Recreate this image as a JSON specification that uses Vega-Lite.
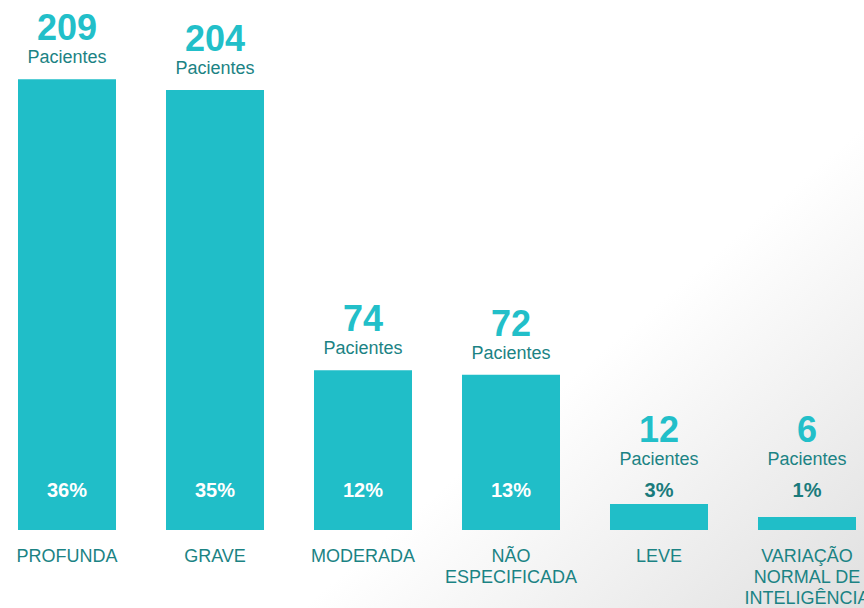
{
  "$schema": "https://vega.github.io/schema/vega-lite/v6.json",
  "width": 864,
  "height": 608,
  "autosize": {"type": "none"},
  "padding": 0,
  "background": "#ffffff",
  "config": {
    "view": {
      "stroke": null,
      "fill": {"gradient": "linear", "x1": 0.67, "y1": 0.61, "x2": 1.06, "y2": 0.93,
        "stops": [{"offset": 0, "color": "#ffffff"}, {"offset": 1, "color": "#e0e0e0"}]}
    }
  },
  "data": {
    "values": [
      {"cat": "PROFUNDA", "n": 209, "pct": "36%"},
      {"cat": "GRAVE", "n": 204, "pct": "35%"},
      {"cat": "MODERADA", "n": 74, "pct": "12%"},
      {"cat": "NÃO ESPECIFICADA", "n": 72, "pct": "13%"},
      {"cat": "LEVE", "n": 12, "pct": "3%"},
      {"cat": "VARIAÇÃO NORMAL DE INTELIGÊNCIA", "n": 6, "pct": "1%"}
    ]
  },
  "encoding": {
    "x": {
      "field": "cat", "type": "nominal", "sort": null,
      "scale": {"range": [18, 856], "paddingInner": 0.3378, "paddingOuter": 0},
      "axis": {
        "title": null, "orient": "bottom", "offset": -78, "domain": false, "ticks": false,
        "labelAngle": 0, "labelPadding": 17, "labelFontSize": 18,
        "labelFont": "Liberation Sans",
        "labelColor": "#1b8384", "labelLineHeight": 21, "labelOverlap": false, "labelBound": false,
        "labelLimit": 0,
        "labelExpr": "datum.label == 'NÃO ESPECIFICADA' ? ['NÃO', 'ESPECIFICADA'] : datum.label == 'VARIAÇÃO NORMAL DE INTELIGÊNCIA' ? ['VARIAÇÃO', 'NORMAL DE', 'INTELIGÊNCIA'] : datum.label"
      }
    }
  },
  "layer": [
    {
      "mark": {"type": "bar", "color": "#20bec8"},
      "encoding": {
        "y": {"field": "n", "type": "quantitative", "scale": {"domain": [0, 245.7], "range": [530, 0], "nice": false, "zero": true}, "axis": null}
      }
    },
    {
      "transform": [{"filter": "datum.n > 50"}],
      "mark": {"type": "text", "dy": -39, "baseline": "alphabetic", "fontSize": 36, "fontWeight": "bold", "font": "Liberation Sans", "color": "#22bfc9"},
      "encoding": {"y": {"field": "n", "type": "quantitative"}, "text": {"field": "n"}}
    },
    {
      "transform": [{"filter": "datum.n > 50"}],
      "mark": {"type": "text", "dy": -16, "baseline": "alphabetic", "fontSize": 18, "font": "Liberation Sans", "color": "#1b8384"},
      "encoding": {"y": {"field": "n", "type": "quantitative"}, "text": {"value": "Pacientes"}}
    },
    {
      "transform": [{"filter": "datum.n <= 50"}],
      "mark": {"type": "text", "dy": -88, "baseline": "alphabetic", "fontSize": 36, "fontWeight": "bold", "font": "Liberation Sans", "color": "#22bfc9"},
      "encoding": {"y": {"datum": 0, "type": "quantitative"}, "text": {"field": "n"}}
    },
    {
      "transform": [{"filter": "datum.n <= 50"}],
      "mark": {"type": "text", "dy": -65, "baseline": "alphabetic", "fontSize": 18, "font": "Liberation Sans", "color": "#1b8384"},
      "encoding": {"y": {"datum": 0, "type": "quantitative"}, "text": {"value": "Pacientes"}}
    },
    {
      "mark": {"type": "text", "dy": -33, "baseline": "alphabetic", "fontSize": 20, "fontWeight": "bold", "font": "Liberation Sans"},
      "encoding": {
        "y": {"datum": 0, "type": "quantitative"},
        "text": {"field": "pct"},
        "color": {"condition": {"test": "datum.n > 50", "value": "#ffffff"}, "value": "#1a7b7c"}
      }
    }
  ]
}
